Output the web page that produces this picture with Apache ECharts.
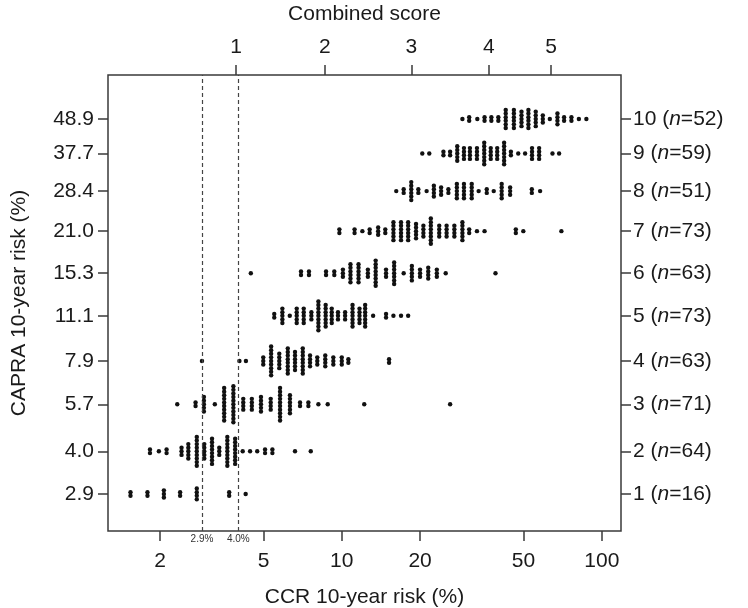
<!DOCTYPE html>
<html><head><meta charset="utf-8">
<script src="https://cdn.jsdelivr.net/npm/echarts@6/dist/echarts.min.js"></script>
<style>html,body{margin:0;padding:0;background:#fff}#c{width:748px;height:608px}</style>
</head><body><div id="c"></div>
<script>
// CAPRA rows (y) — 10-year risk (%) and score, group sizes
const capraRisk = [2.9, 4.0, 5.7, 7.9, 11.1, 15.3, 21.0, 28.4, 37.7, 48.9];
const capraScore = [1, 2, 3, 4, 5, 6, 7, 8, 9, 10];
const groupN = [16, 64, 71, 63, 73, 63, 73, 51, 59, 52];
// bottom axis ticks (CCR risk %)
const ccrTicks = [2, 5, 10, 20, 50, 100];
// top axis: combined score and the CCR risk where each score falls
const scoreTicks = [1, 2, 3, 4, 5];
const scoreTickRisk = [3.92, 8.6, 18.5, 36.8, 63.8];
// threshold lines
const cutoffs = [2.9, 4.0];

// dot columns per CAPRA row: CCR risk (%) of each column and number of patients
const row1Risk = [1.54, 1.79, 2.07, 2.39, 2.77, 3.69, 4.27];
const row1Count = [2, 2, 3, 2, 4, 2, 1];
const row2Risk = [1.83, 1.98, 2.12, 2.42, 2.57, 2.77, 2.96, 3.17, 3.38, 3.63, 3.89, 4.16, 4.44, 4.73, 5.07, 5.41, 6.61, 7.60];
const row2Count = [2, 1, 2, 3, 5, 9, 5, 8, 3, 9, 8, 1, 1, 1, 2, 2, 1, 1];
const row3Risk = [2.33, 2.74, 2.95, 3.25, 3.53, 3.83, 4.18, 4.51, 4.89, 5.33, 5.79, 6.32, 6.91, 7.44, 8.13, 8.83, 12.2, 26.1];
const row3Count = [1, 2, 5, 1, 10, 11, 4, 4, 5, 4, 10, 6, 2, 2, 1, 1, 1, 1];
const row4Risk = [2.90, 4.04, 4.28, 4.99, 5.35, 5.75, 6.20, 6.61, 7.08, 7.55, 8.05, 8.64, 9.28, 10.0, 10.6, 15.2];
const row4Count = [1, 1, 1, 3, 9, 5, 8, 6, 8, 4, 3, 4, 3, 3, 2, 2];
const row5Risk = [5.50, 5.91, 6.31, 6.71, 7.14, 7.64, 8.13, 8.67, 9.15, 9.67, 10.3, 11.0, 11.7, 12.3, 13.2, 14.8, 15.8, 16.9, 18.0];
const row5Count = [2, 5, 1, 5, 5, 3, 9, 7, 5, 3, 3, 7, 5, 7, 1, 2, 1, 1, 1];
const row6Risk = [4.47, 6.97, 7.48, 8.70, 9.36, 10.1, 10.8, 11.6, 12.6, 13.5, 14.8, 15.9, 17.3, 18.6, 20.0, 21.5, 23.2, 25.1, 39.0];
const row6Count = [1, 2, 2, 2, 2, 3, 6, 6, 3, 8, 3, 7, 1, 5, 3, 4, 3, 1, 1];
const row7Risk = [9.79, 11.2, 12.0, 12.8, 13.8, 14.7, 15.8, 16.9, 18.0, 19.3, 20.6, 22.0, 23.7, 25.3, 27.1, 29.1, 30.9, 33.1, 35.4, 46.7, 49.9, 69.9];
const row7Count = [2, 2, 1, 2, 3, 2, 6, 6, 6, 5, 4, 8, 4, 4, 4, 6, 2, 1, 1, 2, 1, 1];
const row8Risk = [16.2, 17.3, 18.5, 19.7, 21.2, 22.6, 24.1, 25.7, 27.7, 29.5, 31.6, 33.6, 36.1, 38.4, 41.2, 44.4, 53.8, 57.9];
const row8Count = [1, 2, 6, 2, 1, 4, 3, 2, 5, 5, 5, 1, 2, 1, 5, 3, 2, 1];
const row9Risk = [20.4, 21.7, 24.6, 26.1, 27.8, 29.5, 31.1, 33.1, 35.3, 37.4, 39.6, 42.1, 44.7, 47.7, 50.7, 53.9, 57.4, 64.6, 68.5];
const row9Count = [1, 1, 2, 2, 5, 4, 4, 4, 7, 4, 4, 7, 2, 1, 1, 4, 4, 1, 1];
const row10Risk = [29.1, 30.9, 33.2, 35.4, 37.6, 40.0, 42.7, 45.9, 49.1, 52.2, 55.7, 59.3, 63.1, 67.5, 71.6, 76.4, 81.6, 87.2];
const row10Count = [1, 2, 1, 2, 2, 2, 6, 6, 5, 6, 5, 3, 1, 4, 2, 2, 1, 1];

const rowRisk = [row1Risk, row2Risk, row3Risk, row4Risk, row5Risk, row6Risk, row7Risk, row8Risk, row9Risk, row10Risk];
const rowCount = [row1Count, row2Count, row3Count, row4Count, row5Count, row6Count, row7Count, row8Count, row9Count, row10Count];

const DOT = 4.4, STEP = 3.6;
const dots = [];
rowRisk.forEach((risks, r) => {
  risks.forEach((x, j) => {
    const n = rowCount[r][j];
    for (let k = 0; k < n; k++) {
      dots.push({ value: [x, capraRisk[r]], symbolOffset: [0, (k - (n - 1) / 2) * STEP] });
    }
  });
});

const X_MIN = 1.262, X_MAX = 118.5, Y_MIN = 2.194, Y_MAX = 68.1;
const FONT = 'Liberation Sans';
const TXT = '#1a1a1a';
const FS = 21;

function nearestIdx(arr, v) {
  let best = 0, bd = Infinity;
  arr.forEach((a, i) => { const d = Math.abs(Math.log(a) - Math.log(v)); if (d < bd) { bd = d; best = i; } });
  return best;
}

const chart = echarts.init(document.getElementById('c'), null, { renderer: 'canvas' });
chart.setOption({
  animation: false,
  backgroundColor: '#fff',
  textStyle: { fontFamily: FONT },
  grid: { left: 108, right: 127, top: 75, bottom: 77, containLabel: false, outerBoundsMode: 'none',
    show: true, borderColor: '#3a3a3a', borderWidth: 1.5, backgroundColor: 'transparent' },
  xAxis: [
    {
      type: 'log', logBase: 10, min: X_MIN, max: X_MAX, position: 'bottom',
      axisLine: { show: false },
      axisTick: { show: true, customValues: ccrTicks, length: 10, lineStyle: { color: '#3a3a3a', width: 1.5 } },
      axisLabel: { customValues: ccrTicks, fontSize: FS, color: TXT, margin: 20, fontFamily: FONT },
      splitLine: { show: false },
      name: 'CCR 10-year risk (%)', nameLocation: 'middle', nameGap: 56,
      nameTextStyle: { fontSize: FS, color: TXT, fontFamily: FONT }
    },
    {
      type: 'log', logBase: 10, min: X_MIN, max: X_MAX, position: 'top',
      axisLine: { show: false },
      axisTick: { show: true, customValues: scoreTickRisk, length: 10, lineStyle: { color: '#3a3a3a', width: 1.5 } },
      axisLabel: { customValues: scoreTickRisk, fontSize: FS, color: TXT, margin: 17, fontFamily: FONT,
        formatter: v => String(scoreTicks[nearestIdx(scoreTickRisk, v)]) },
      splitLine: { show: false },
      name: 'Combined score', nameLocation: 'middle', nameGap: 50,
      nameTextStyle: { fontSize: FS, color: TXT, fontFamily: FONT }
    }
  ],
  yAxis: [
    {
      type: 'log', logBase: 10, min: Y_MIN, max: Y_MAX, position: 'left',
      axisLine: { show: false },
      axisTick: { show: true, customValues: capraRisk, length: 10, lineStyle: { color: '#3a3a3a', width: 1.5 } },
      axisLabel: { customValues: capraRisk, fontSize: FS, color: TXT, margin: 14, fontFamily: FONT,
        formatter: v => capraRisk[nearestIdx(capraRisk, v)].toFixed(1) },
      splitLine: { show: false },
      name: 'CAPRA 10-year risk (%)', nameLocation: 'middle', nameGap: 78, nameRotate: 90,
      nameTextStyle: { fontSize: FS, color: TXT, fontFamily: FONT }
    },
    {
      type: 'log', logBase: 10, min: Y_MIN, max: Y_MAX, position: 'right',
      axisLine: { show: false },
      axisTick: { show: true, customValues: capraRisk, length: 10, lineStyle: { color: '#3a3a3a', width: 1.5 } },
      axisLabel: { customValues: capraRisk, color: TXT, margin: 12, align: 'left',
        formatter: v => { const i = nearestIdx(capraRisk, v); return '{a|' + capraScore[i] + ' (}{i|n}{a|=' + groupN[i] + ')}'; },
        rich: {
          a: { fontSize: FS, color: TXT, fontFamily: FONT },
          i: { fontSize: FS, color: TXT, fontFamily: FONT, fontStyle: 'italic' }
        }
      },
      splitLine: { show: false }
    }
  ],
  series: [
    {
      type: 'scatter', xAxisIndex: 0, yAxisIndex: 0,
      symbol: 'circle', symbolSize: DOT,
      itemStyle: { color: '#111', opacity: 1 },
      data: dots,
      markLine: {
        silent: true, symbol: ['none', 'none'],
        lineStyle: { color: '#444', type: [4, 3], width: 1.2 },
        label: { show: true, position: 'start', distance: 3, fontSize: 10, color: '#333', fontFamily: FONT,
          formatter: p => p.value.toFixed(1) + '%' },
        data: cutoffs.map(c => ({ xAxis: c }))
      }
    }
  ]
});
</script>
</body></html>
